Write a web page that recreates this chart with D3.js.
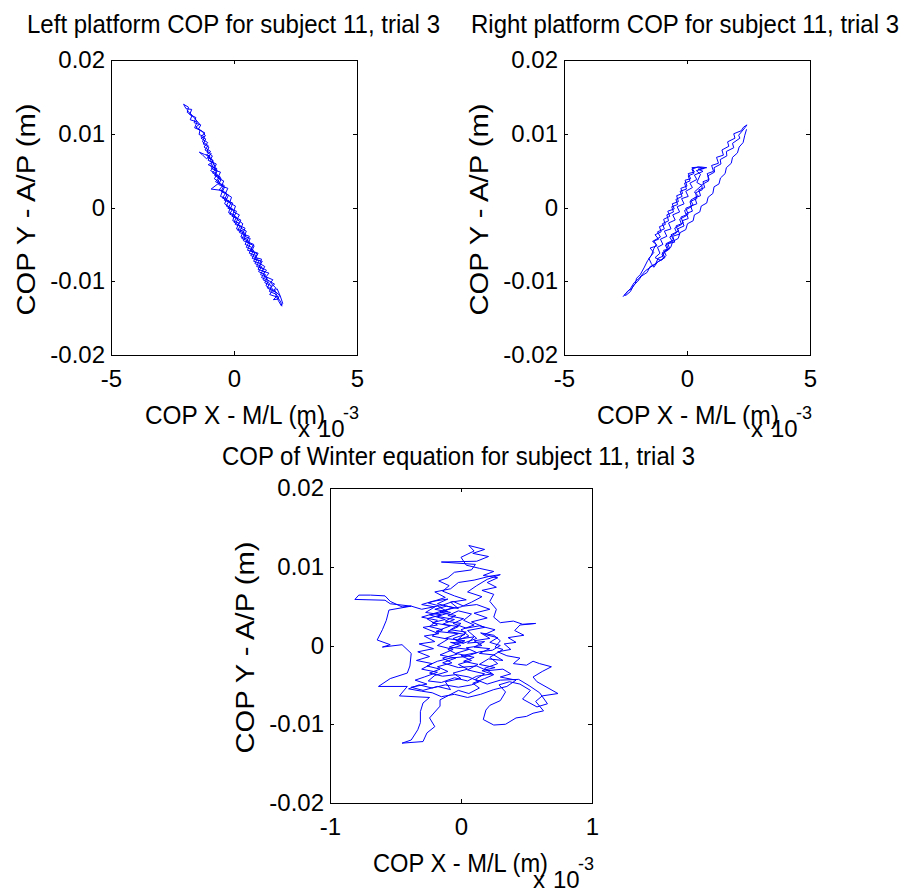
<!DOCTYPE html>
<html>
<head>
<meta charset="utf-8">
<script src="https://cdn.jsdelivr.net/npm/d3@7"></script>
<style>
  body { margin: 0; background: #fff; }
  svg text { font-family: "Liberation Sans", Arial, sans-serif; fill: #000; }
</style>
</head>
<body>
<div id="chart-area"></div>
<script>
//************* Data *************//
// x values are in units of 10^-3 m (as on the axes), y values in mm

const platformXTicks = [-5, 0, 5];
const winterXTicks = [-1, 0, 1];
const yTicks = [-20, -10, 0, 10, 20];   // mm, labelled in m

const leftTitle = 'Left platform COP for subject 11, trial 3';
const rightTitle = 'Right platform COP for subject 11, trial 3';
const winterTitle = 'COP of Winter equation for subject 11, trial 3';
const xLabel = 'COP X - M/L (m)';
const yLabel = 'COP Y - A/P (m)';

const leftCop = [
  [1.95,-13.4],[1.90,-12.8],[1.80,-12.3],[1.85,-11.9],[1.62,-11.2],[1.70,-10.9],[1.48,-10.2],[1.58,-9.8],
  [1.30,-9.4],[1.42,-8.9],[1.15,-8.6],[1.25,-8.0],[1.05,-7.6],[1.12,-7.0],[0.88,-6.8],[0.98,-6.2],
  [0.72,-5.9],[0.82,-5.2],[0.58,-4.8],[0.66,-4.2],[0.42,-3.9],[0.50,-3.2],[0.28,-2.8],[0.36,-2.2],
  [0.12,-1.6],[0.22,-1.0],[-0.02,-0.6],[0.06,0.2],[-0.18,0.6],[-0.10,1.4],[-0.35,1.9],[-0.25,2.6],
  [-0.50,2.9],[-0.42,3.6],[-0.66,4.0],[-0.55,4.8],[-0.82,5.1],[-0.72,5.9],[-0.98,6.3],[-0.88,7.0],
  [-1.10,7.5],[-1.02,8.2],[-1.25,8.6],[-1.15,9.3],[-1.35,9.6],[-1.18,10.1],[-1.45,10.6],[-1.35,11.2],
  [-1.62,11.5],[-1.55,12.2],[-1.80,12.6],[-1.72,13.3],[-1.95,13.4],[-2.05,14.0],[-1.85,13.6],[-1.90,12.9],
  [-1.65,12.3],[-1.40,11.3],[-1.55,10.9],[-1.28,10.3],[-1.16,9.7],[-1.34,9.4],[-1.07,8.8],[-1.22,8.2],
  [-0.95,7.6],[-1.12,7.1],[-0.90,6.5],[-0.78,5.6],[-0.95,5.0],[-0.68,4.5],[-0.80,3.9],[-0.58,3.4],
  [-0.93,2.5],[-0.46,2.3],[-0.55,1.5],[-0.30,1.2],[-0.38,0.5],[-0.15,0.0],[-0.22,-0.7],[0.02,-1.0],
  [-0.05,-1.8],[0.20,-2.1],[0.10,-2.9],[0.38,-3.2],[0.28,-4.0],[0.55,-4.3],[0.45,-5.0],[0.72,-5.4],
  [0.62,-6.2],[0.90,-6.5],[0.80,-7.3],[1.08,-7.6],[0.98,-8.4],[1.25,-8.7],[1.12,-9.5],[1.40,-9.9],
  [1.30,-10.6],[1.58,-11.2],[1.45,-11.8],[1.72,-12.1],[1.60,-12.5],[1.82,-12.4],[1.70,-11.6],[1.50,-10.8],
  [1.65,-10.4],[1.35,-9.8],[1.20,-9.0],[1.32,-8.5],[1.02,-8.0],[1.15,-7.3],[0.85,-7.0],[0.95,-6.3],
  [0.68,-5.8],[0.80,-5.0],[0.52,-4.6],[0.62,-3.9],[0.35,-3.6],[0.45,-2.8],[0.18,-2.4],[0.28,-1.7],
  [0.00,-1.3],[0.10,-0.5],[-0.15,-0.2],[-0.05,0.6],[-0.32,1.0],[-0.22,1.7],[-0.48,2.1],[-0.38,2.8],
  [-0.62,3.1],[-0.52,3.9],[-0.78,4.3],[-0.68,5.0],[-0.92,5.3],[-0.82,6.0],[-1.05,6.4],[-0.98,7.0],
  [-1.20,7.2],[-1.41,7.5],[-1.30,7.2],[-1.12,6.6],[-1.00,6.9],[-0.85,6.2],[-1.05,5.8],[-0.70,5.3],
  [-0.88,4.7],[-0.58,4.2],[-0.75,3.5],[-0.45,3.0],[-0.60,2.4],[-0.32,2.0],[-0.48,1.3],[-0.20,0.9],
  [-0.32,0.2],[-0.05,-0.2],[-0.18,-0.9],[0.10,-1.3],[0.00,-2.0],[0.25,-2.5],[0.15,-3.1],[0.45,-3.5],
  [0.32,-4.2],[0.62,-4.6],[0.50,-5.4],[0.80,-5.8],[0.68,-6.5],[0.95,-6.9],[0.85,-7.6],[1.12,-8.0],
  [1.00,-8.7],[1.28,-9.1],[1.18,-9.8],[1.45,-10.3],[1.35,-10.9],[1.62,-11.4],[1.75,-11.0],[1.88,-12.0],
  [1.98,-13.0],[1.92,-13.3],[1.80,-12.6],[1.68,-11.7],[1.44,-11.4],[1.52,-10.6],[1.25,-10.2],[1.36,-9.5],
  [1.08,-9.1],[1.20,-8.3],[0.92,-8.0],[1.02,-7.2],[0.74,-6.9],[0.85,-6.1],[0.55,-5.8],[0.66,-4.9],
  [0.38,-4.5],[0.48,-3.7],[0.22,-3.4],[0.32,-2.6],[0.05,-2.3],[0.16,-1.5],[-0.08,-1.2],[0.02,-0.4],
  [-0.25,-0.1],[-0.12,0.6],[-0.40,1.0],[-0.28,1.8],[-0.52,2.2],[-0.40,3.0],[-0.68,3.4],[-0.55,4.1],
  [-0.78,4.4],[-0.70,5.2],[-0.95,5.6],[-0.85,6.4],[-1.08,6.8],[-0.92,7.3],[-1.18,7.8],[-1.05,8.4],
  [-1.28,8.9],[-1.20,9.6],[-1.42,9.9],[-1.38,10.5],[-1.60,10.8],[-1.50,11.6],[-1.78,11.9],[-1.70,12.5],
  [-1.92,13.2]
];

const rightCop = [
  [-2.60,-12.1],[-2.50,-11.7],[-2.40,-11.3],[-2.25,-11.0],[-2.10,-10.3],[-2.05,-9.6],[-1.90,-9.1],[-1.75,-8.2],
  [-1.60,-7.2],[-1.45,-6.5],[-1.35,-5.6],[-1.25,-5.0],[-1.40,-4.6],[-1.15,-4.3],[-1.30,-3.7],[-1.05,-3.3],
  [-1.12,-2.6],[-0.88,-2.3],[-0.95,-1.6],[-0.70,-1.2],[-0.78,-0.5],[-0.52,-0.2],[-0.60,0.5],[-0.35,0.8],
  [-0.42,1.6],[-0.18,1.9],[-0.25,2.6],[0.00,2.9],[-0.08,3.7],[0.15,3.9],[0.05,4.6],[0.30,4.8],
  [0.20,5.4],[0.55,5.5],[0.80,5.4],[0.45,5.2],[0.65,4.9],[0.30,4.4],[0.40,3.8],[0.12,3.3],
  [0.22,2.7],[-0.05,2.2],[0.05,1.5],[-0.22,1.2],[-0.12,0.5],[-0.40,0.1],[-0.30,-0.6],[-0.58,-1.0],
  [-0.48,-1.7],[-0.75,-2.1],[-0.65,-2.9],[-0.92,-3.2],[-0.82,-3.9],[-1.08,-4.3],[-0.98,-5.0],[-1.20,-5.4],
  [-1.10,-6.2],[-1.30,-6.8],[-1.05,-7.2],[-0.85,-6.5],[-0.95,-5.8],[-0.70,-5.6],[-0.78,-4.9],[-0.50,-4.7],
  [-0.58,-3.9],[-0.30,-3.6],[-0.38,-2.9],[-0.12,-2.5],[-0.20,-1.8],[0.05,-1.5],[-0.02,-0.8],[0.22,-0.5],
  [0.15,0.2],[0.40,0.5],[0.32,1.3],[0.55,1.6],[0.48,2.4],[0.72,2.7],[0.65,3.5],[0.90,3.8],
  [0.82,4.6],[1.08,4.9],[1.00,5.7],[1.28,6.0],[1.20,6.8],[1.48,7.1],[1.42,7.8],[1.70,8.3],
  [1.65,8.9],[1.95,9.4],[1.90,10.0],[2.20,10.4],[2.30,10.9],[2.44,11.2],[2.35,10.8],[2.10,9.8],
  [2.15,9.4],[1.85,8.7],[1.90,8.1],[1.60,7.6],[1.62,7.0],[1.35,6.5],[1.38,5.9],[1.10,5.4],
  [1.12,4.8],[0.85,4.3],[0.88,3.6],[0.60,3.1],[0.62,2.4],[0.35,2.0],[0.40,1.2],[0.12,0.8],
  [0.18,0.1],[-0.10,-0.4],[-0.02,-1.1],[-0.30,-1.6],[-0.22,-2.3],[-0.50,-2.8],[-0.42,-3.4],[-0.70,-4.0],
  [-0.60,-4.6],[-0.88,-5.1],[-0.78,-5.8],[-1.02,-6.3],[-0.95,-6.9],[-1.20,-7.4],[-1.35,-8.1],[-1.45,-7.6],
  [-1.55,-6.9],[-1.35,-6.1],[-1.50,-5.5],[-1.22,-5.2],[-1.35,-4.5],[-1.08,-4.0],[-1.20,-3.3],[-0.92,-2.9],
  [-1.00,-2.2],[-0.75,-1.8],[-0.82,-1.0],[-0.55,-0.6],[-0.62,0.1],[-0.38,0.4],[-0.45,1.1],[-0.20,1.5],
  [-0.28,2.2],[-0.02,2.5],[-0.10,3.3],[0.12,3.6],[0.05,4.3],[0.28,4.6],[0.20,5.2],[0.45,5.5],
  [0.70,5.3],[0.38,5.0],[0.55,4.5],[0.40,3.4],[0.60,3.0],[0.30,2.1],[0.45,1.6],[0.15,1.0],
  [0.25,0.3],[-0.05,-0.1],[0.05,-0.9],[-0.25,-1.3],[-0.15,-2.1],[-0.45,-2.5],[-0.35,-3.2],[-0.65,-3.7],
  [-0.55,-4.4],[-0.85,-4.9],[-0.75,-5.7],[-1.00,-6.1],[-0.90,-6.8],[-1.15,-7.3],[-1.40,-7.9],[-1.70,-8.6],
  [-1.95,-9.6],[-2.15,-10.2],[-2.30,-11.0],[-2.55,-11.9],[-2.48,-11.9],[-2.30,-11.4],[-2.18,-10.6],[-2.00,-10.0],
  [-1.85,-9.3],[-1.62,-8.8],[-1.50,-8.0],[-1.28,-7.7],[-1.18,-6.9],[-0.98,-6.6],[-0.90,-5.9],[-0.66,-5.4],
  [-0.58,-4.6],[-0.36,-4.2],[-0.28,-3.4],[-0.05,-3.0],[0.02,-2.2],[0.25,-1.8],[0.30,-1.0],[0.52,-0.6],
  [0.58,0.2],[0.80,0.6],[0.86,1.4],[1.05,1.9],[1.10,2.8],[1.30,3.2],[1.36,4.0],[1.55,4.6],
  [1.60,5.4],[1.80,6.0],[1.85,6.8],[2.05,7.4],[2.12,8.2],[2.28,8.8],[2.35,9.8],[2.42,10.6]
];

const winterCop = [
  [0.02,0.3],[-0.06,0.9],[0.03,1.4],[-0.10,1.8],[-0.02,2.4],[-0.14,2.7],[-0.05,3.3],[-0.18,3.7],
  [-0.08,4.2],[-0.20,4.6],[-0.11,5.0],[-0.02,4.7],[-0.08,5.5],[0.04,5.8],[-0.05,6.3],[-0.14,6.9],
  [-0.09,7.6],[-0.17,8.2],[-0.10,8.6],[-0.05,9.3],[0.08,9.6],[0.11,10.3],[-0.15,10.6],[0.12,10.7],
  [0.21,11.3],[0.09,11.7],[0.18,12.2],[0.06,12.7],[0.10,12.0],[0.00,11.2],[0.04,10.2],[0.14,9.8],
  [0.25,9.4],[0.17,8.9],[0.28,8.6],[0.20,8.0],[0.27,7.4],[0.16,7.0],[0.25,6.5],[0.22,5.6],
  [0.27,4.6],[0.25,3.6],[0.30,2.9],[0.40,3.1],[0.47,2.7],[0.57,2.8],[0.45,2.6],[0.41,1.9],
  [0.48,1.3],[0.36,1.0],[0.42,0.4],[0.33,0.2],[0.38,-0.5],[0.28,-0.8],[0.35,-1.3],[0.45,-1.6],
  [0.40,-2.3],[0.50,-2.5],[0.55,-2.0],[0.60,-2.3],[0.69,-2.7],[0.62,-3.3],[0.55,-4.0],[0.58,-4.6],
  [0.74,-6.1],[0.62,-6.4],[0.57,-7.1],[0.63,-8.3],[0.55,-8.6],[0.50,-9.0],[0.42,-9.2],[0.34,-10.0],
  [0.25,-10.1],[0.17,-9.4],[0.19,-8.2],[0.22,-7.6],[0.30,-7.0],[0.34,-5.9],[0.29,-5.0],[0.37,-4.6],
  [0.45,-4.9],[0.53,-5.7],[0.47,-6.8],[0.58,-7.8],[0.66,-7.4],[0.60,-6.0],[0.52,-5.1],[0.44,-4.3],
  [0.30,-4.4],[0.20,-4.9],[0.11,-4.3],[0.18,-3.6],[0.05,-3.1],[0.13,-2.4],[0.02,-2.0],[0.10,-1.5],
  [-0.04,-1.0],[0.06,-0.5],[-0.09,-0.2],[0.03,0.6],[-0.12,0.9],[-0.02,1.5],[-0.19,1.8],[-0.08,2.5],
  [-0.22,2.9],[-0.12,3.3],[-0.24,3.9],[-0.10,4.3],[-0.18,5.0],[-0.30,4.6],[-0.38,5.0],[-0.45,4.9],
  [-0.54,5.6],[-0.58,6.3],[-0.69,6.4],[-0.78,6.4],[-0.81,5.85],[-0.58,5.75],[-0.54,5.3],[-0.38,5.0],
  [-0.55,4.5],[-0.57,3.2],[-0.60,2.0],[-0.64,0.7],[-0.54,0.1],[-0.60,-0.2],[-0.45,0.1],[-0.38,-1.0],
  [-0.39,-2.6],[-0.41,-3.5],[-0.54,-4.2],[-0.63,-5.2],[-0.41,-5.2],[-0.47,-6.4],[-0.24,-6.6],[-0.29,-7.3],
  [-0.31,-8.4],[-0.31,-9.8],[-0.33,-10.7],[-0.38,-12.0],[-0.45,-12.4],[-0.29,-12.2],[-0.26,-11.1],[-0.20,-10.3],
  [-0.24,-9.2],[-0.16,-7.7],[-0.16,-6.9],[-0.09,-6.3],[-0.02,-5.7],[0.06,-6.1],[0.14,-5.4],[0.09,-4.8],
  [0.18,-4.2],[0.25,-3.7],[0.16,-3.2],[0.26,-2.8],[0.14,-2.4],[0.21,-1.7],[0.32,-1.9],[0.25,-1.2],
  [0.14,-1.0],[0.22,-0.4],[0.10,-0.2],[0.18,0.5],[0.05,0.3],[0.10,1.1],[-0.02,0.8],[0.04,1.7],
  [-0.08,2.0],[0.00,2.8],[-0.12,3.1],[-0.04,3.8],[-0.16,4.2],[-0.06,4.8],[-0.18,5.3],[-0.10,5.9],
  [-0.22,5.6],[-0.30,5.2],[-0.20,4.9],[-0.27,4.2],[-0.15,3.9],[-0.26,3.4],[-0.18,2.6],[-0.29,2.3],
  [-0.17,1.5],[-0.28,1.2],[-0.20,0.5],[-0.32,0.2],[-0.21,-0.4],[-0.33,-0.8],[-0.24,-1.4],[-0.34,-1.9],
  [-0.22,-2.3],[-0.30,-3.0],[-0.18,-3.4],[-0.28,-4.0],[-0.35,-4.4],[-0.26,-4.9],[-0.38,-5.3],[-0.29,-5.7],
  [-0.18,-5.2],[-0.08,-5.6],[-0.12,-4.6],[0.00,-4.2],[-0.06,-3.5],[0.05,-3.0],[-0.02,-2.4],[0.08,-1.9],
  [0.00,-1.3],[0.12,-0.9],[0.04,-0.3],[0.16,0.0],[0.10,0.6],[0.22,0.9],[0.15,1.6],[0.25,1.3],
  [0.30,0.6],[0.26,-0.2],[0.32,-0.5],[0.22,-1.5],[0.28,-2.3],[0.18,-2.9],[0.24,-3.6],[0.12,-3.9],
  [0.05,-4.5],[-0.05,-4.1],[-0.15,-4.7],[-0.25,-4.5],[-0.20,-3.8],[-0.10,-3.3],[-0.18,-2.7],[-0.07,-2.2],
  [-0.14,-1.6],[-0.03,-1.1],[-0.10,-0.5],[0.00,0.0],[-0.08,0.4],[0.02,0.3],[0.12,0.9],[0.05,1.9],
  [0.18,2.3],[0.08,3.0],[0.20,3.5],[0.10,4.1],[0.22,4.6],[0.12,5.2],[0.02,5.0],[-0.06,5.6],
  [-0.16,5.0],[-0.25,5.4],[-0.12,6.1],[-0.20,6.8],[-0.08,7.2],[-0.02,8.0],[0.10,8.3],[0.22,8.8],
  [0.30,9.0],[0.20,8.4],[0.12,7.6],[0.05,6.8],[0.16,6.2],[0.08,5.5],[0.00,4.9],[-0.10,4.6],
  [-0.22,4.0],[-0.30,3.6],[-0.18,3.2],[-0.24,2.4],[-0.14,2.0],[-0.22,1.2],[-0.10,0.8],[-0.18,0.0],
  [-0.06,-0.5],[-0.16,-1.2],[-0.04,-1.6],[-0.14,-2.2],[-0.02,-2.8],[0.12,-2.6],[0.20,-3.2],[0.32,-3.0],
  [0.38,-3.6],[0.30,-4.0],[0.42,-4.4],[0.35,-5.2],[0.25,-5.6],[0.15,-6.2],[0.05,-6.6],[-0.05,-6.2],
  [-0.15,-6.5],[-0.22,-6.0],[-0.30,-5.8],[-0.40,-5.5],[-0.32,-5.0],[-0.22,-5.4],[-0.12,-5.0],[-0.02,-5.3],
  [0.08,-5.0],[0.14,-4.6],[0.06,-4.0],[-0.04,-3.7],[-0.14,-3.9],[-0.24,-3.5],[-0.16,-3.0],[-0.26,-2.6],
  [-0.18,-2.0],[-0.08,-1.6],[0.04,-1.4],[0.14,-0.8],[0.24,-0.6],[0.30,0.0],[0.22,0.4],[0.28,1.0],
  [0.18,1.4],[0.26,2.0],[0.14,2.5],[0.04,2.2],[-0.06,2.8],[0.02,3.4],[-0.10,3.8],[-0.02,4.4],
  [0.08,4.0],[0.02,3.2],[0.10,2.6],[0.00,2.0],[0.06,1.2],[-0.04,0.6],[0.02,0.3]
];

//************* Canvas Set Up *************//

let svg = d3.select('#chart-area').append('svg')
  .attr('width', 908)
  .attr('height', 894);

let font = '"Liberation Sans", Arial, sans-serif';

function drawPanel(p) {
  let x = d3.scaleLinear().domain(p.xDomain).range([p.left, p.right]);
  let y = d3.scaleLinear().domain([-20, 20]).range([p.bottom, p.top]);
  let g = svg.append('g');

  // trace
  let line = d3.line().x(d => x(d[0])).y(d => y(d[1]));
  g.append('path')
    .datum(p.data)
    .attr('d', line)
    .attr('fill', 'none')
    .attr('stroke', '#0000ff')
    .attr('stroke-width', 1)
    .attr('stroke-linejoin', 'round');

  // axes: ticks point inward on all four sides
  let bottomAxis = d3.axisBottom(x).tickValues(p.xTicks).tickSizeInner(-4).tickSizeOuter(0)
    .tickPadding(15).tickFormat(d => String(d));
  let topAxis = d3.axisTop(x).tickValues(p.xTicks).tickSizeInner(-4).tickSizeOuter(0).tickFormat('');
  let leftAxis = d3.axisLeft(y).tickValues(yTicks).tickSizeInner(-4).tickSizeOuter(0)
    .tickPadding(6).tickFormat(d => String(d / 1000));
  let rightAxis = d3.axisRight(y).tickValues(yTicks).tickSizeInner(-4).tickSizeOuter(0).tickFormat('');

  let axes = [
    [bottomAxis, 'translate(0,' + p.bottom + ')'],
    [topAxis, 'translate(0,' + p.top + ')'],
    [leftAxis, 'translate(' + p.left + ',0)'],
    [rightAxis, 'translate(' + p.right + ',0)']
  ];
  axes.forEach(a => {
    g.append('g')
      .attr('transform', a[1])
      .call(a[0])
      .attr('font-size', 24)
      .attr('font-family', font)
      .attr('shape-rendering', 'crispEdges');
  });

  // title
  g.append('text')
    .attr('x', p.titleX)
    .attr('y', p.titleY)
    .attr('font-size', 25)
    .attr('textLength', p.titleW)
    .attr('lengthAdjust', 'spacingAndGlyphs')
    .text(p.title);

  // x label
  g.append('text')
    .attr('x', p.xLabelX)
    .attr('y', p.bottom + 69)
    .attr('font-size', 25)
    .attr('textLength', p.xLabelW)
    .attr('lengthAdjust', 'spacingAndGlyphs')
    .text(xLabel);

  // y label
  let cy = (p.top + p.bottom) / 2 + 2;
  g.append('text')
    .attr('transform', 'translate(' + (p.left - 76) + ',' + cy + ') rotate(-90)')
    .attr('x', -106)
    .attr('y', 0)
    .attr('font-size', 25)
    .attr('textLength', 212)
    .attr('lengthAdjust', 'spacingAndGlyphs')
    .text(yLabel);

  // exponent of the x axis
  let mult = g.append('text')
    .attr('x', p.right - 59)
    .attr('y', p.bottom + p.multDy)
    .attr('font-size', 24);
  mult.append('tspan').text('x');
  mult.append('tspan').attr('x', p.right - 39).text('10');
  mult.append('tspan').attr('x', p.right - 14).attr('dy', -18).attr('font-size', 18).text('-3');
}

drawPanel({
  data: leftCop, xDomain: [-5, 5], xTicks: platformXTicks,
  left: 111, right: 357, top: 60, bottom: 355,
  title: leftTitle, titleX: 27, titleY: 33, titleW: 413,
  xLabelX: 145, xLabelW: 180, multDy: 82
});

drawPanel({
  data: rightCop, xDomain: [-5, 5], xTicks: platformXTicks,
  left: 564, right: 810, top: 60, bottom: 355,
  title: rightTitle, titleX: 471, titleY: 33, titleW: 428,
  xLabelX: 597, xLabelW: 182, multDy: 82
});

drawPanel({
  data: winterCop, xDomain: [-1, 1], xTicks: winterXTicks,
  left: 330, right: 592, top: 488, bottom: 803,
  title: winterTitle, titleX: 222, titleY: 465, titleW: 473,
  xLabelX: 373, xLabelW: 175, multDy: 85
});
</script>
</body>
</html>
